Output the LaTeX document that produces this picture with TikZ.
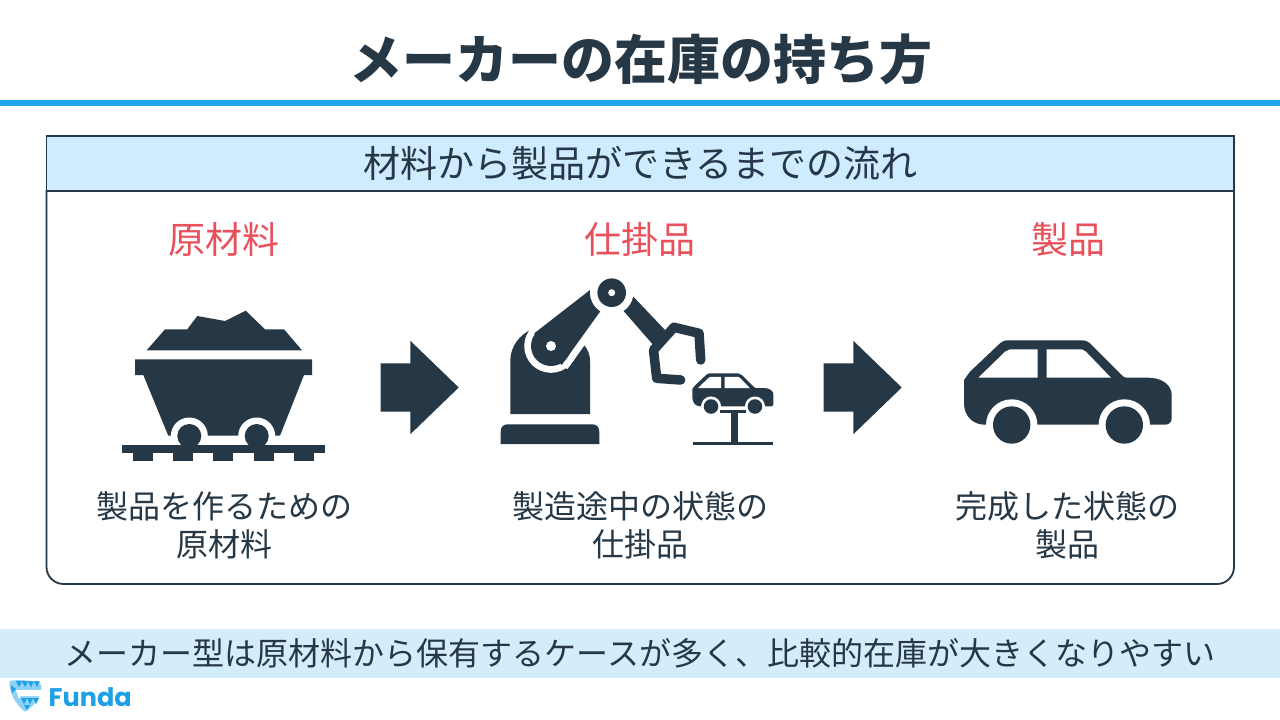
\documentclass[tikz,border=0pt]{standalone}
\usepackage{fontspec}
\usepackage{xcolor}
\usepackage{tikz}
\usetikzlibrary{shapes, arrows}
\setmainfont{Noto Sans CJK JP}
\newfontfamily\logofont{Poppins}
\definecolor{darknavy}{RGB}{38, 56, 70}
\definecolor{linecolor}{RGB}{30, 167, 240}
\definecolor{headcolor}{RGB}{206, 236, 253}
\definecolor{bandcolor}{RGB}{212, 237, 250}
\definecolor{labelred}{RGB}{232, 80, 92}
\definecolor{logocolor}{RGB}{28, 160, 230}
\definecolor{logolight}{RGB}{140, 210, 246}

\tikzset{
    bodytext/.style={text=darknavy, font=\fontsize{32}{38.5}\selectfont, align=center, inner sep=0pt},
    redlabel/.style={text=labelred, font=\fontsize{37}{44}\selectfont, inner sep=0pt},
    flowarrow/.style={single arrow, fill=darknavy, minimum height=78pt, single arrow head extend=22.5pt, single arrow tip angle=88, inner xsep=0pt, inner ysep=24pt, anchor=tip},
    carpic/.pic={
        \fill[darknavy] (-104,-45) -- (-98,-53.3) -- (-68,-81.7) .. controls (-65,-84) and (-63,-84.7) .. (-61.3,-84.7) -- (13.7,-84.7) .. controls (18,-84.7) and (21,-83) .. (23.7,-80) -- (53.7,-50) .. controls (55,-48) and (57,-47.3) .. (58.7,-47.3) -- (80.3,-47.3) .. controls (94,-47.3) and (103.7,-40) .. (103.7,-30) -- (103.7,-6.7) .. controls (103.7,-3) and (101,-0.3) .. (97,-0.3) -- (-83,-0.3) .. controls (-96,-0.3) and (-104,-10) .. (-104,-21.7) -- cycle;
        % Windows
        \fill[white] (-89.7,-47.3) -- (-63,-73.3) -- (-58,-75.7) -- (-30.3,-75.7) -- (-30.3,-47.3) -- cycle;
        \fill[white] (-21.3,-75.7) -- (13.7,-75.7) -- (18,-73.3) -- (43,-47.3) -- (-21.3,-47.3) -- cycle;
        % Wheels
        \foreach \wx in {-56.3,56.3} {
            \fill[white] (\wx,0) circle (25.7pt);
            \fill[darknavy] (\wx,0) circle (18.7pt);
        }
    }
}

\begin{document}
\begin{tikzpicture}[x=1pt, y=-1pt]
        \useasboundingbox (0,0) rectangle (1280,720);
        \fill[white] (0,0) rectangle (1280,720);

        % Title
        \node[text=darknavy, font=\fontsize{53}{60}\selectfont\bfseries, inner sep=0pt] (title) at (640.5,59) {メーカーの在庫の持ち方};
        \fill[linecolor] (0,100) rectangle (1280,106);

        % Frame
        \draw[darknavy, line width=1.8pt, rounded corners=17pt] (46.5,190) -- (46.5,584) -- (1234,584) -- (1234,190);
        \node[draw=darknavy, fill=headcolor, line width=1.8pt, minimum width=1187.5pt, minimum height=55pt, inner sep=0pt, text=darknavy, font=\fontsize{37}{44}\selectfont] (flowhead) at (640.2,163.5) {材料から製品ができるまでの流れ};

        % Labels
        \node[redlabel] (rawlabel) at (223.5,239) {原材料};
        \node[redlabel] (wiplabel) at (639.5,239) {仕掛品};
        \node[redlabel] (prodlabel) at (1068,239) {製品};

        % Cart
        \fill[darknavy] (146.7,350.3) -- (165,329.3) -- (187.3,329.3) -- (197.3,316) -- (225,321) -- (245.7,310.7) -- (265,329.3) -- (284,329.3) -- (302,350.3) -- cycle;
        \fill[darknavy] (135,359.3) -- (312,359.3) -- (312,375) -- (304,375) -- (280,435.7) -- (168.3,435.7) -- (143.3,375) -- (135,375) -- cycle;
        \foreach \wx in {189.3,256.7} {
            \fill[white] (\wx,436) circle (18.5pt);
        }
        \fill[white] (160,436) rectangle (290,445);
        \fill[darknavy] (121.7,444.7) rectangle (325,453.3);
        \foreach \sx in {132.7,173,213.3,253.7,294} {
            \fill[darknavy] (\sx,453) rectangle (\sx+20,460.7);
        }
        \foreach \wx in {189.3,256.7} {
            \fill[darknavy] (\wx,436) circle (12pt);
        }

        % Arrows
        \node[flowarrow] (arrowone) at (459,387.5) {};
        \node[flowarrow] (arrowtwo) at (902,387.5) {};

        % Robot
        \fill[darknavy] (500.7,444) -- (500.7,432) .. controls (500.7,427) and (503,424.3) .. (508,424.3) -- (592,424.3) .. controls (597,424.3) and (599.3,427) .. (599.3,432) -- (599.3,444) -- cycle;
        \fill[darknavy] (510.3,414) -- (510.3,362) .. controls (510.3,345) and (520,335) .. (532,329) -- (584,345) .. controls (588,350) and (590,354) .. (590,362) -- (590,414) -- cycle;
        \draw[white, line width=14pt, line join=round] (534.3,333.3) -- (590,290) -- (600,311.7) -- (561.7,365);
        \fill[white] (551,346) circle (26.8pt);
        \fill[darknavy] (534.3,333.3) -- (590,290) -- (600,311.7) -- (561.7,365) -- cycle;
        \fill[darknavy] (551,346) circle (20pt);
        \fill[white] (551,346) circle (5pt);
        \fill[darknavy] (623.3,310.7) -- (632.7,296) -- (665,330) -- (653.3,345) -- cycle;
        \draw[darknavy, line width=9.5pt, line join=round, line cap=round] (700.7,360) -- (699,333.3) -- (674,327.3) -- (653.5,350) -- (656.7,378.3) -- (680.7,380);
        \fill[white] (611.7,292.7) circle (21.7pt);
        \fill[darknavy] (611.7,292.7) circle (14.3pt);
        \fill[white] (611.7,292.7) circle (3.5pt);

        % Small car on lift
        \pic[scale=0.39] at (733,406.5) {carpic};
        \fill[darknavy] (720,410) rectangle (746,412.7);
        \fill[darknavy] (730.7,410) rectangle (738.3,442);
        \fill[darknavy] (692.7,441.7) rectangle (773.3,444.7);

        % Car
        \pic at (1068,425) {carpic};

        % Descriptions
        \node[bodytext] (rawtext) at (224.3,525.5) {製品を作るための\\原材料};
        \node[bodytext] (wiptext) at (640.5,525.5) {製造途中の状態の\\仕掛品};
        \node[bodytext] (prodtext) at (1067.3,525.5) {完成した状態の\\製品};

        % Bottom band
        \node[fill=bandcolor, minimum width=1280pt, minimum height=49pt, inner sep=0pt, text=darknavy, font=\fontsize{32}{38}\selectfont] (summary) at (640,653.5) {メーカー型は原材料から保有するケースが多く、比較的在庫が大きくなりやすい};

        % Logo
        \fill[logolight] (9.5,681) .. controls (20,679) and (32,680) .. (41.5,685) .. controls (42,695) and (35,706) .. (25,711.7) .. controls (15,704) and (9,692) .. (9.5,681) -- cycle;
        \foreach \tx in {16,22,28,34} {
            \fill[logocolor] (\tx,681) -- (\tx+6,681.5) -- (\tx+3,687) -- cycle;
        }
        \fill[logocolor] (10.5,685) -- (16,689) -- (12,693) -- cycle;
        \fill[white] (16,690) -- (41.5,690) -- (41,696) -- (21,696) -- (19,699) -- cycle;
        \foreach \tx in {21,27,33} {
            \fill[logocolor] (\tx,698) -- (\tx+6,698) -- (\tx+3,704) -- cycle;
        }
        \fill[logocolor] (24,705) -- (30,705) -- (27,710) -- cycle;
        \node[text=logocolor, font=\logofont\bfseries\fontsize{25.5}{30}\selectfont, inner sep=0pt, anchor=west] (logotext) at (48.5,697) {Funda};
    \end{tikzpicture}
\end{document}
